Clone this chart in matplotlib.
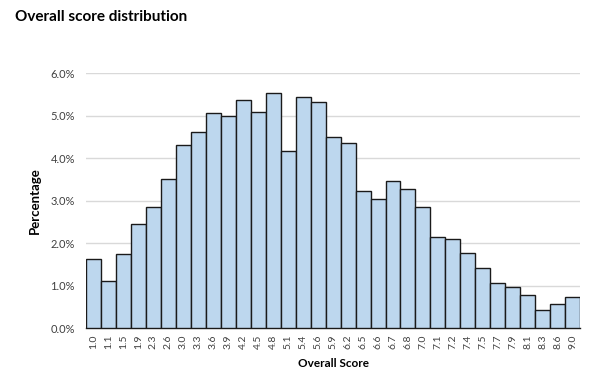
import numpy as np
import matplotlib
matplotlib.use("Agg")
import matplotlib.pyplot as plt
from matplotlib.ticker import FuncFormatter

plt.rcParams['font.family'] = ['Lato', 'DejaVu Sans']

# Score bins (tick labels) and share of respondents in each bin (%)
scores = ["1.0", "1.1", "1.5", "1.9", "2.3", "2.6", "3.0", "3.3", "3.6", "3.9",
          "4.2", "4.5", "4.8", "5.1", "5.4", "5.6", "5.9", "6.2", "6.5", "6.6",
          "6.7", "6.8", "7.0", "7.1", "7.2", "7.4", "7.5", "7.7", "7.9", "8.1",
          "8.3", "8.6", "9.0"]
percent = [1.62, 1.11, 1.74, 2.45, 2.86, 3.51, 4.31, 4.62, 5.06, 4.99,
           5.36, 5.09, 5.53, 4.16, 5.44, 5.33, 4.49, 4.36, 3.23, 3.03,
           3.47, 3.27, 2.86, 2.15, 2.09, 1.76, 1.41, 1.06, 0.97, 0.77,
           0.43, 0.56, 0.73]

fig = plt.figure(figsize=(6.14, 3.85), dpi=100)
ax = fig.add_axes([0.140, 0.148, 0.805, 0.662])

x = np.arange(len(scores))
ax.bar(x, percent, width=1.0, color="#BDD7EE", edgecolor="#1a1a1a", linewidth=1.0, zorder=3)

ax.set_xlim(-0.5, len(scores) - 0.5)
ax.set_ylim(0, 6)
ax.set_yticks(np.arange(0, 7, 1))
ax.yaxis.set_major_formatter(FuncFormatter(lambda v, p: f"{v:.1f}%"))
ax.grid(axis="y", color="#d9d9d9", linewidth=1.0, zorder=0)

ax.set_xticks(x)
ax.set_xticklabels(scores, rotation=90, fontsize=7.5, color="#404040")
ax.tick_params(axis="y", labelsize=8, colors="#404040", length=0, pad=8)
ax.tick_params(axis="x", length=0, pad=5)

for s in ["top", "right", "left"]:
    ax.spines[s].set_visible(False)
ax.spines["bottom"].set_color("#1a1a1a")
ax.spines["bottom"].set_linewidth(1.0)

ax.set_xlabel("Overall Score", fontsize=8.5, fontweight="bold", labelpad=6)
ax.set_ylabel("Percentage", fontsize=9.5, fontweight="bold", labelpad=7)

fig.text(0.024, 0.955, "Overall score distribution", fontsize=11, fontweight="bold", va="center")

fig.savefig("out.png", dpi=100)
